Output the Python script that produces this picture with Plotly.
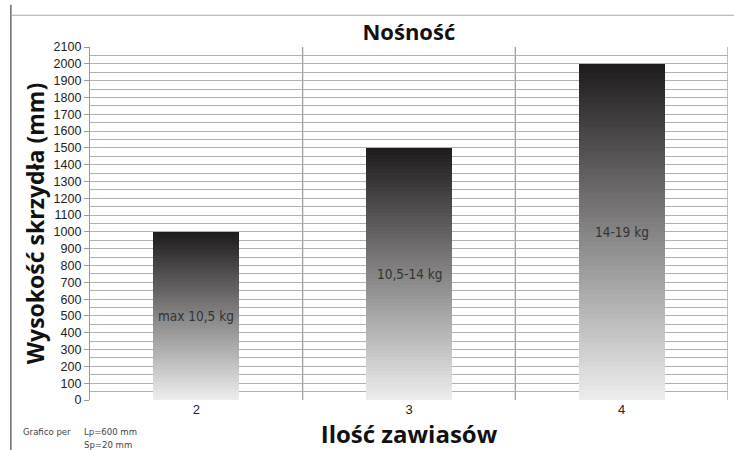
import plotly.graph_objects as go

categories = [2, 3, 4]
heights = [1000, 1500, 2000]
labels = ["max 10,5 kg", "10,5-14 kg", "14-19 kg"]
y_ticks = list(range(0, 2101, 100))

N = 70
top_rgb = (30, 28, 28)
bot_rgb = (236, 236, 236)

NARROW = "DejaVu Sans Condensed, Roboto, Liberation Sans, sans-serif"

fig = go.Figure()
for i in range(N):
    t = i / (N - 1)
    c = tuple(int(round(bot_rgb[k] + (top_rgb[k] - bot_rgb[k]) * t)) for k in range(3))
    fig.add_trace(go.Bar(
        x=categories, y=[h / N for h in heights], width=0.405,
        marker=dict(color="rgb(%d,%d,%d)" % c, line=dict(width=0)),
        hoverinfo="skip", showlegend=False,
    ))

for x, h, lab in zip(categories, heights, labels):
    fig.add_annotation(x=x, y=h / 2, text=lab, showarrow=False,
                       font=dict(family=NARROW, size=13.5, color="#333333"))

# category separators and right border
for xv in [2.5, 3.5, 4.5]:
    fig.add_shape(type="line", xref="x", yref="y", x0=xv, x1=xv, y0=0, y1=2100,
                  line=dict(color="#9a9a9a", width=1.2), layer="below")

# outer frame
fig.add_shape(type="line", xref="paper", yref="paper", x0=-0.124, x1=-0.124, y0=-0.16, y1=1.12,
              line=dict(color="#444444", width=1.2))
fig.add_shape(type="line", xref="paper", yref="paper", x0=-0.124, x1=1.02, y0=1.09, y1=1.09,
              line=dict(color="#aaaaaa", width=1.2))

fig.add_annotation(xref="paper", yref="paper", x=-0.108, y=-0.088, xanchor="left", yanchor="middle",
                   text="Grafico per", showarrow=False,
                   font=dict(family=NARROW, size=9.5, color="#444444"))
fig.add_annotation(xref="paper", yref="paper", x=-0.012, y=-0.088, xanchor="left", yanchor="middle",
                   text="Lp=600 mm", showarrow=False,
                   font=dict(family=NARROW, size=9.5, color="#444444"))
fig.add_annotation(xref="paper", yref="paper", x=-0.012, y=-0.125, xanchor="left", yanchor="middle",
                   text="Sp=20 mm", showarrow=False,
                   font=dict(family=NARROW, size=9.5, color="#444444"))

fig.update_layout(
    width=734, height=450,
    margin=dict(l=90, r=6, t=47, b=50),
    paper_bgcolor="white", plot_bgcolor="white",
    barmode="stack", bargap=0,
    title=dict(text="<b>Nośność</b>", x=0.557, xanchor="center", y=0.929, yanchor="middle",
               font=dict(family="Open Sans", size=22, color="#111111")),
    xaxis=dict(
        range=[1.5, 4.5], tickvals=categories, ticktext=[str(c) for c in categories],
        showgrid=False, zeroline=False, showline=False, ticks="",
        tickfont=dict(family="Liberation Sans", size=13, color="#222222"),
        title=dict(text="<b>Ilość zawiasów</b>", standoff=3,
                   font=dict(family="Open Sans", size=24, color="#111111")),
    ),
    yaxis=dict(
        range=[0, 2100], tickvals=y_ticks, ticktext=[str(v) for v in y_ticks],
        showgrid=True, gridcolor="#b0b0b0", gridwidth=1.3,
        minor=dict(dtick=50, showgrid=True, gridcolor="#b0b0b0", gridwidth=1.3),
        zeroline=False, showline=True, linecolor="#9a9a9a", linewidth=1.2,
        ticks="outside", ticklen=5, tickcolor="#9a9a9a",
        tickfont=dict(family="Liberation Sans", size=12.5, color="#222222"),
        title=dict(text="<b>Wysokość skrzydła (mm)</b>", standoff=2,
                   font=dict(family="Open Sans", size=23, color="#111111")),
    ),
)

fig.write_html("out.html", config={"displayModeBar": False},
               post_script="document.body.style.margin='0';document.body.style.overflow='hidden';")
